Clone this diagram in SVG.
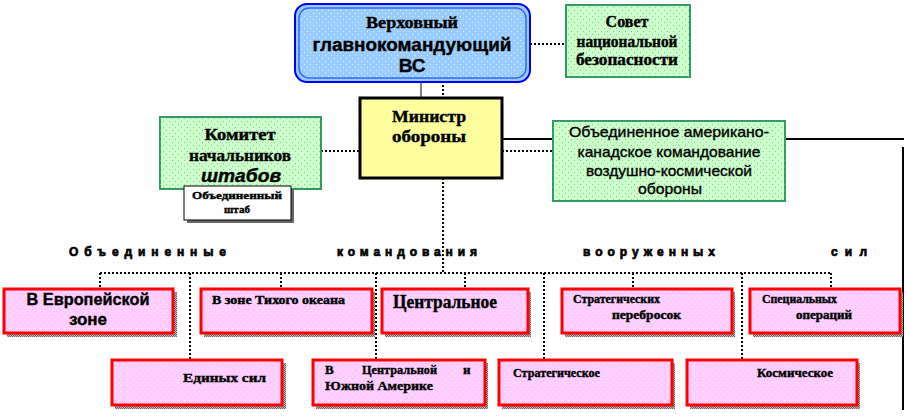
<svg xmlns="http://www.w3.org/2000/svg" width="906" height="418" viewBox="0 0 906 418">
<defs>
<pattern id="dots" width="6" height="6" patternUnits="userSpaceOnUse"><rect x="1" y="1" width="1" height="1" fill="#ffffff" opacity="0.7"/><rect x="4" y="4" width="1" height="1" fill="#ffffff" opacity="0.7"/></pattern>
<pattern id="gdots" width="6" height="6" patternUnits="userSpaceOnUse"><rect x="1" y="1" width="1" height="1" fill="#66cc66" opacity="0.8"/><rect x="4" y="4" width="1" height="1" fill="#66cc66" opacity="0.8"/></pattern>
<pattern id="shade" width="2" height="2" patternUnits="userSpaceOnUse"><rect width="2" height="2" fill="#bbbbbb"/><rect width="1" height="1" fill="#666666"/><rect x="1" y="1" width="1" height="1" fill="#666666"/></pattern>
</defs>
<style>
.red{fill:#ffccff;stroke:#ff0000;stroke-width:3}
.shadow{fill:url(#shade)}
.green{fill:#ccffcc;stroke:#339966;stroke-width:2}
.solid{stroke:#000;stroke-width:2;fill:none}
.thin{stroke:#000;stroke-width:1;fill:none}
.dot{stroke:#000;stroke-width:2;fill:none;stroke-dasharray:2 2}
.sb{font-family:"Liberation Serif",serif;font-weight:bold;fill:#000;stroke:#000;stroke-width:0.4}
.ab{font-family:"Liberation Sans",Arial,sans-serif;font-weight:bold;fill:#000;stroke:#000;stroke-width:0.4}
.a{font-family:"Liberation Sans",Arial,sans-serif;fill:#000;stroke:#000;stroke-width:0.35}
.hd{font-family:"Liberation Sans",Arial,sans-serif;font-weight:bold;fill:#000;stroke:#000;stroke-width:0.7}
.c{text-anchor:middle}
</style>
<rect width="906" height="418" fill="#ffffff"/>

<g id="connectors">
<line class="thin" x1="421" y1="81" x2="421" y2="97"/>
<line class="dot" x1="443" y1="81" x2="443" y2="97"/>
<line class="dot" x1="530" y1="44" x2="565" y2="44"/>
<line class="dot" x1="321" y1="151" x2="359" y2="151"/>
<line class="dot" x1="502" y1="151" x2="553" y2="151"/>
<line class="solid" x1="502" y1="139" x2="553" y2="139"/>
<line class="solid" x1="785" y1="139" x2="904" y2="139"/>
<line class="solid" x1="903" y1="147" x2="903" y2="410"/>
<line class="dot" x1="443" y1="178" x2="443" y2="273"/>
<line class="dot" x1="100" y1="273" x2="831" y2="273"/>
<line class="dot" x1="100" y1="273" x2="100" y2="288"/>
<line class="dot" x1="281" y1="273" x2="281" y2="288"/>
<line class="dot" x1="465" y1="273" x2="465" y2="288"/>
<line class="dot" x1="633" y1="273" x2="633" y2="288"/>
<line class="dot" x1="831" y1="273" x2="831" y2="288"/>
<line class="dot" x1="190" y1="273" x2="190" y2="359"/>
<line class="dot" x1="376" y1="273" x2="376" y2="359"/>
<line class="dot" x1="544" y1="273" x2="544" y2="359"/>
<line class="dot" x1="742" y1="273" x2="742" y2="359"/>
</g>

<g id="supreme">
<rect x="295" y="4" width="235" height="78" rx="12" fill="#99ccff" stroke="#0000ff" stroke-width="2"/>
<rect x="299" y="8" width="227" height="70" rx="10" fill="url(#dots)" stroke="#3366ff" stroke-width="1.5"/>
<text class="sb c" x="412" y="28" font-size="16" textLength="92" lengthAdjust="spacingAndGlyphs">Верховный</text>
<text class="ab c" x="412" y="51" font-size="19" textLength="199" lengthAdjust="spacingAndGlyphs">главнокомандующий</text>
<text class="ab c" x="412" y="72" font-size="19">ВС</text>
</g>

<g id="nsc">
<rect class="green" x="566" y="5" width="124" height="72"/>
<rect x="566" y="5" width="124" height="72" fill="url(#gdots)"/>
<text class="sb c" x="627" y="27" font-size="16">Совет</text>
<text class="sb c" x="627" y="47" font-size="16" textLength="101" lengthAdjust="spacingAndGlyphs">национальной</text>
<text class="sb c" x="627" y="65" font-size="16" textLength="102" lengthAdjust="spacingAndGlyphs">безопасности</text>
</g>

<g id="minister">
<rect x="360" y="98" width="142" height="80" fill="#ffff99" stroke="#000" stroke-width="3"/>
<rect x="362" y="100" width="138" height="76" fill="url(#dots)"/>
<text class="sb c" x="429" y="122" font-size="17" textLength="74" lengthAdjust="spacingAndGlyphs">Министр</text>
<text class="sb c" x="429" y="142" font-size="17" textLength="74" lengthAdjust="spacingAndGlyphs">обороны</text>
</g>

<g id="jcs">
<rect class="green" x="160" y="117" width="161" height="72"/>
<rect x="160" y="117" width="161" height="72" fill="url(#gdots)"/>
<text class="sb c" x="240" y="140" font-size="17" textLength="71" lengthAdjust="spacingAndGlyphs">Комитет</text>
<text class="sb c" x="240" y="161" font-size="17" textLength="102" lengthAdjust="spacingAndGlyphs">начальников</text>
<text class="ab c" x="241" y="182" font-size="18" font-style="italic" textLength="80" lengthAdjust="spacingAndGlyphs">штабов</text>
</g>

<g id="joint-staff">
<rect x="187" y="189" width="107" height="34" fill="#666666"/>
<rect x="184" y="186" width="107" height="34" fill="#ffffff" stroke="#000" stroke-width="1"/>
<text class="sb c" x="237" y="199" font-size="11" textLength="90" lengthAdjust="spacingAndGlyphs">Объединенный</text>
<text class="sb c" x="237" y="213" font-size="11">штаб</text>
</g>

<g id="norad">
<rect class="green" x="553" y="121" width="232" height="80"/>
<rect x="553" y="121" width="232" height="80" fill="url(#gdots)"/>
<text class="a c" x="669" y="137" font-size="15" textLength="200" lengthAdjust="spacingAndGlyphs">Объединенное  американо-</text>
<text class="a c" x="669" y="157" font-size="15" textLength="183" lengthAdjust="spacingAndGlyphs">канадское командование</text>
<text class="a c" x="669" y="176" font-size="15" textLength="166" lengthAdjust="spacingAndGlyphs">воздушно-космической</text>
<text class="a c" x="670" y="194" font-size="15" textLength="64" lengthAdjust="spacingAndGlyphs">обороны</text>
</g>

<g id="heading">
<text class="hd" x="69" y="256" font-size="12" textLength="157" lengthAdjust="spacing">Объединенные</text>
<text class="hd" x="337" y="256" font-size="12" textLength="140" lengthAdjust="spacing">командования</text>
<text class="hd" x="583" y="256" font-size="12" textLength="132" lengthAdjust="spacing">вооруженных</text>
<text class="hd" x="831" y="256" font-size="12" textLength="36" lengthAdjust="spacing">сил</text>
</g>

<g id="europe">
<rect class="shadow" x="7" y="292" width="170" height="45"/>
<rect class="red" x="4" y="289" width="169" height="44"/>
<rect x="6" y="291" width="165" height="40" fill="url(#dots)"/>
<text class="ab c" x="88" y="305" font-size="17" textLength="123" lengthAdjust="spacingAndGlyphs">В Европейской</text>
<text class="ab c" x="88" y="325" font-size="17">зоне</text>
</g>

<g id="pacific">
<rect class="shadow" x="204" y="292" width="171" height="45"/>
<rect class="red" x="201" y="289" width="171" height="44"/>
<rect x="203" y="291" width="167" height="40" fill="url(#dots)"/>
<text class="sb" x="212" y="304" font-size="12" textLength="133" lengthAdjust="spacingAndGlyphs">В зоне Тихого океана</text>
</g>

<g id="central">
<rect class="shadow" x="385" y="292" width="146" height="45"/>
<rect class="red" x="382" y="289" width="146" height="44"/>
<rect x="384" y="291" width="142" height="40" fill="url(#dots)"/>
<text class="sb" x="393" y="308" font-size="19" textLength="104" lengthAdjust="spacingAndGlyphs">Центральное</text>
</g>

<g id="transport">
<rect class="shadow" x="565" y="292" width="170" height="45"/>
<rect class="red" x="562" y="289" width="170" height="44"/>
<rect x="564" y="291" width="166" height="40" fill="url(#dots)"/>
<text class="sb" x="573" y="303" font-size="12" textLength="87" lengthAdjust="spacingAndGlyphs">Стратегических</text>
<text class="sb" x="612" y="319" font-size="12" textLength="69" lengthAdjust="spacingAndGlyphs">перебросок</text>
</g>

<g id="special">
<rect class="shadow" x="753" y="292" width="150" height="45"/>
<rect class="red" x="750" y="289" width="150" height="44"/>
<rect x="752" y="291" width="146" height="40" fill="url(#dots)"/>
<text class="sb" x="762" y="303" font-size="12" textLength="75" lengthAdjust="spacingAndGlyphs">Специальных</text>
<text class="sb" x="796" y="319" font-size="12" textLength="56" lengthAdjust="spacingAndGlyphs">операций</text>
</g>

<g id="unified">
<rect class="shadow" x="115" y="363" width="171" height="46"/>
<rect class="red" x="112" y="360" width="170" height="45"/>
<rect x="114" y="362" width="166" height="41" fill="url(#dots)"/>
<text class="sb" x="183" y="382" font-size="13" textLength="83" lengthAdjust="spacingAndGlyphs">Единых сил</text>
</g>

<g id="south">
<rect class="shadow" x="316" y="363" width="172" height="46"/>
<rect class="red" x="313" y="360" width="172" height="45"/>
<rect x="315" y="362" width="168" height="41" fill="url(#dots)"/>
<text class="sb" x="325" y="374" font-size="13">В</text>
<text class="sb" x="362" y="374" font-size="13" textLength="75" lengthAdjust="spacingAndGlyphs">Центральной</text>
<text class="sb" x="463" y="374" font-size="13">и</text>
<text class="sb" x="325" y="390" font-size="13" textLength="108" lengthAdjust="spacingAndGlyphs">Южной Америке</text>
</g>

<g id="strategic">
<rect class="shadow" x="502" y="363" width="173" height="46"/>
<rect class="red" x="499" y="360" width="173" height="45"/>
<rect x="501" y="362" width="169" height="41" fill="url(#dots)"/>
<text class="sb" x="513" y="377" font-size="13" textLength="87" lengthAdjust="spacingAndGlyphs">Стратегическое</text>
</g>

<g id="space">
<rect class="shadow" x="690" y="363" width="170" height="46"/>
<rect class="red" x="687" y="360" width="170" height="45"/>
<rect x="689" y="362" width="166" height="41" fill="url(#dots)"/>
<text class="sb" x="757" y="377" font-size="13" textLength="76" lengthAdjust="spacingAndGlyphs">Космическое</text>
</g>
</svg>
